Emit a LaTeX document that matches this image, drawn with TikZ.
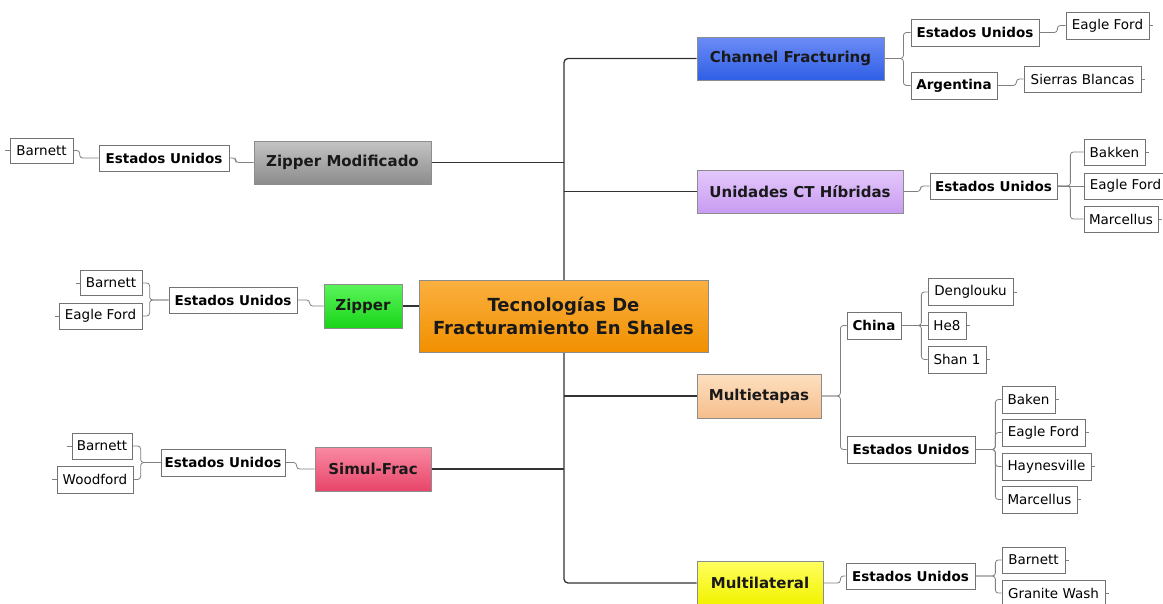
\documentclass[tikz,border=0pt]{standalone}
\usepackage{fontspec}
\setmainfont{DejaVu Sans}
\pgfdeclarelayer{bg}
\pgfsetlayers{bg,main}
\definecolor{orT}{HTML}{FBB040}\definecolor{orB}{HTML}{F19000}
\definecolor{blT}{HTML}{6C8CF5}\definecolor{blB}{HTML}{2F5FE6}
\definecolor{grT}{HTML}{C4C4C4}\definecolor{grB}{HTML}{8C8C8C}
\definecolor{puT}{HTML}{E4C8FB}\definecolor{puB}{HTML}{C89CF2}
\definecolor{gnT}{HTML}{5CF55C}\definecolor{gnB}{HTML}{18D418}
\definecolor{peT}{HTML}{FDE0C0}\definecolor{peB}{HTML}{F6BE8C}
\definecolor{piT}{HTML}{F98AA2}\definecolor{piB}{HTML}{E8456A}
\definecolor{yeT}{HTML}{FFFF60}\definecolor{yeB}{HTML}{F2F200}
\newcommand\mkbox[7]{\node[#6, minimum width=#4pt, minimum height=#5pt] (#1) at (#2,#3) {#7};}
\tikzset{
  mainbox/.style 2 args={draw=black!45, line width=0.8pt, inner sep=0pt, top color=#1, bottom color=#2, font=\bfseries\fontsize{15}{18}\selectfont, text=black!90},
  secbox/.style={draw=black!55, fill=white, line width=0.7pt, inner sep=0pt, font=\bfseries\fontsize{13.5}{16}\selectfont},
  leafbox/.style={draw=black!55, fill=white, line width=0.7pt, inner sep=0pt, font=\fontsize{13.5}{16}\selectfont},
  trunk/.style={draw=black!80, line width=1.3pt, rounded corners=4pt},
  conn/.style={draw=black!50, line width=0.8pt, rounded corners=3pt}
}
\begin{document}
\begin{tikzpicture}[x=1pt,y=-1pt]
\useasboundingbox (0,0) rectangle (1163,603);
% central
\node[mainbox={orT}{orB}, minimum width=289pt, minimum height=72pt, align=center, font=\bfseries\fontsize{18}{23}\selectfont] (c) at (563.5,316) {Tecnologías De\\Fracturamiento En Shales};
\coordinate (tx) at (564,0);
% Channel Fracturing
\mkbox{cf}{790.5}{58.5}{187}{43}{mainbox={blT}{blB}}{Channel Fracturing}
\mkbox{cfeu}{975}{32.5}{128}{27}{secbox}{Estados Unidos}
\mkbox{cfar}{954}{85.5}{86}{27}{secbox}{Argentina}
\mkbox{cfef}{1107.5}{25.5}{83}{27}{leafbox}{Eagle Ford}
\mkbox{cfsb}{1082.5}{79}{117}{26}{leafbox}{Sierras Blancas}
% Zipper Modificado
\mkbox{zm}{342.5}{162.5}{177}{43}{mainbox={grT}{grB}}{Zipper Modificado}
\mkbox{zmeu}{164}{158}{130}{26}{secbox}{Estados Unidos}
\mkbox{zmb}{41.5}{150.5}{63}{25}{leafbox}{Barnett}
% Unidades CT
\mkbox{ct}{800}{191.5}{206}{43}{mainbox={puT}{puB}}{Unidades CT Híbridas}
\mkbox{cteu}{993.5}{186}{127}{26}{secbox}{Estados Unidos}
\mkbox{ctbk}{1114.5}{152}{61}{26}{leafbox}{Bakken}
\mkbox{ctef}{1125.5}{186}{83}{26}{leafbox}{Eagle Ford}
\mkbox{ctmc}{1121}{219}{74}{26}{leafbox}{Marcellus}
% Zipper
\mkbox{zp}{363}{306}{78}{44}{mainbox={gnT}{gnB}}{Zipper}
\mkbox{zpeu}{233}{300}{128}{26}{secbox}{Estados Unidos}
\mkbox{zpb}{111}{283}{62}{25}{leafbox}{Barnett}
\mkbox{zpef}{100.5}{316}{83}{26}{leafbox}{Eagle Ford}
% Multietapas
\mkbox{me}{759}{396}{124}{44}{mainbox={peT}{peB}}{Multietapas}
\mkbox{mech}{874}{325.5}{54}{27}{secbox}{China}
\mkbox{chdg}{970.5}{292}{85}{27}{leafbox}{Denglouku}
\mkbox{chhe}{947}{325.5}{38}{27}{leafbox}{He8}
\mkbox{chsh}{957}{359.5}{58}{27}{leafbox}{Shan 1}
\mkbox{meeu}{911}{449.5}{128}{27}{secbox}{Estados Unidos}
\mkbox{eubk}{1028.5}{399.5}{53}{27}{leafbox}{Baken}
\mkbox{euef}{1043.5}{432.5}{83}{27}{leafbox}{Eagle Ford}
\mkbox{euhv}{1046.5}{466.5}{89}{27}{leafbox}{Haynesville}
\mkbox{eumc}{1039.5}{499.5}{75}{27}{leafbox}{Marcellus}
% Simul-Frac
\mkbox{sf}{373}{469}{116}{44}{mainbox={piT}{piB}}{Simul-Frac}
\mkbox{sfeu}{223}{462.5}{124}{27}{secbox}{Estados Unidos}
\mkbox{sfb}{102}{446}{60}{26}{leafbox}{Barnett}
\mkbox{sfw}{95}{479.5}{76}{27}{leafbox}{Woodford}
% Multilateral
\mkbox{ml}{760}{583}{126}{44}{mainbox={yeT}{yeB}}{Multilateral}
\mkbox{mleu}{910.5}{576}{129}{26}{secbox}{Estados Unidos}
\mkbox{mlb}{1033.5}{560}{63}{26}{leafbox}{Barnett}
\mkbox{mlgw}{1053.5}{593}{103}{26}{leafbox}{Granite Wash}
\begin{pgfonlayer}{bg}
% trunk
\draw[trunk] (cf.west) -| (tx |- ml.west) -- (ml.west);
\draw[trunk] (zm.east) -- (tx |- zm.east);
\draw[trunk] (ct.west) -- (tx |- ct.west);
\draw[trunk] (me.west) -- (tx |- me.west);
\draw[trunk] (sf.east) -- (tx |- sf.east);
\draw[trunk] (zp.east) -- (zp.east -| c.west);
% channel
\draw[conn] (cf.east) -- ++(19,0) |- (cfeu.west);
\draw[conn] (cf.east) -- ++(19,0) |- (cfar.west);
\draw[conn] (cfeu.east) -- ++(18,0) |- (cfef.west);
\draw[conn] (cfar.east) -- ++(19,0) |- (cfsb.west);
\draw[conn] (cfef.east) -- ++(4,0);
\draw[conn] (cfsb.east) -- ++(4,0);
% zipper modificado
\draw[conn] (zm.west) -- ++(-18,0) |- (zmeu.east);
\draw[conn] (zmeu.west) -- ++(-19,0) |- (zmb.east);
\draw[conn] (zmb.west) -- ++(-5,0);
% unidades
\draw[conn] (ct.east) -- ++(17,0) |- (cteu.west);
\draw[conn] (cteu.east) -- ++(13,0) |- (ctbk.west);
\draw[conn] (cteu.east) -- (ctef.west);
\draw[conn] (cteu.east) -- ++(13,0) |- (ctmc.west);
\draw[conn] (ctbk.east) -- ++(4,0);
\draw[conn] (ctmc.east) -- ++(4,0);
% zipper
\draw[conn] (zp.west) -- ++(-14,0) |- (zpeu.east);
\draw[conn] (zpeu.west) -- ++(-19,0) |- (zpb.east);
\draw[conn] (zpeu.west) -- ++(-19,0) |- (zpef.east);
\draw[conn] (zpb.west) -- ++(-4,0);
\draw[conn] (zpef.west) -- ++(-4,0);
% multietapas
\draw[conn] (me.east) -- ++(19,0) |- (mech.west);
\draw[conn] (me.east) -- ++(19,0) |- (meeu.west);
\draw[conn] (mech.east) -- ++(20,0) |- (chdg.west);
\draw[conn] (mech.east) -- (chhe.west);
\draw[conn] (mech.east) -- ++(20,0) |- (chsh.west);
\draw[conn] (chdg.east) -- ++(4,0);
\draw[conn] (chhe.east) -- ++(4,0);
\draw[conn] (chsh.east) -- ++(4,0);
\draw[conn] (meeu.east) -- ++(20,0) |- (eubk.west);
\draw[conn] (meeu.east) -- ++(20,0) |- (euef.west);
\draw[conn] (meeu.east) -- ++(20,0) |- (euhv.west);
\draw[conn] (meeu.east) -- ++(20,0) |- (eumc.west);
\draw[conn] (eubk.east) -- ++(4,0);
\draw[conn] (euef.east) -- ++(4,0);
\draw[conn] (euhv.east) -- ++(4,0);
\draw[conn] (eumc.east) -- ++(4,0);
% simul-frac
\draw[conn] (sf.west) -- ++(-18,0) |- (sfeu.east);
\draw[conn] (sfeu.west) -- ++(-20,0) |- (sfb.east);
\draw[conn] (sfeu.west) -- ++(-20,0) |- (sfw.east);
\draw[conn] (sfb.west) -- ++(-5,0);
\draw[conn] (sfw.west) -- ++(-5,0);
% multilateral
\draw[conn] (ml.east) -- ++(17,0) |- (mleu.west);
\draw[conn] (mleu.east) -- ++(20,0) |- (mlb.west);
\draw[conn] (mleu.east) -- ++(20,0) |- (mlgw.west);
\draw[conn] (mlb.east) -- ++(4,0);
\draw[conn] (mlgw.east) -- ++(4,0);
\end{pgfonlayer}
\end{tikzpicture}
\end{document}
